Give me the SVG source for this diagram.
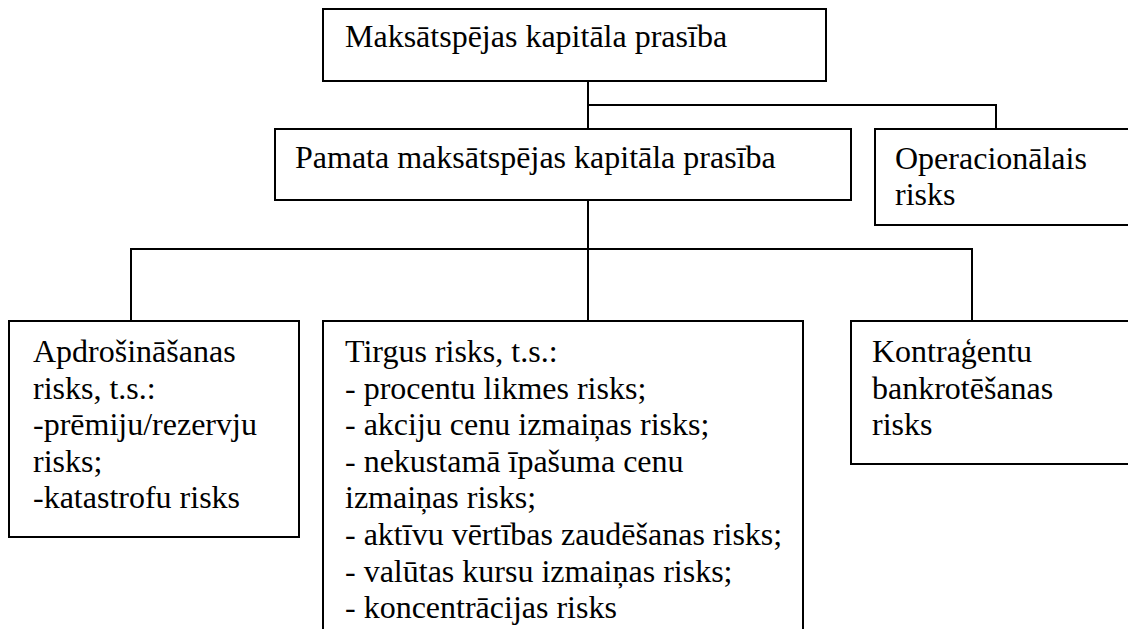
<svg xmlns="http://www.w3.org/2000/svg" width="1128" height="629" viewBox="0 0 1128 629">
<style>
  .box { fill: #ffffff; stroke: #000000; stroke-width: 2; }
  .conn { fill: none; stroke: #000000; stroke-width: 2; }
  .t { font-family: 'Liberation Serif', Tinos, 'Times New Roman', 'DejaVu Serif', serif; font-size: 32px; fill: #000000; }
</style>
<rect x="0" y="0" width="1128" height="629" fill="#ffffff"/>
<g id="connectors">
  <path class="conn" d="M588,81 V129"/>
  <path class="conn" d="M588,105 H996 V129"/>
  <path class="conn" d="M588,200 V321"/>
  <path class="conn" d="M131,321 V249 H972 V321"/>
</g>
<g id="node-top">
  <rect class="box" x="323" y="9" width="503" height="72"/>
  <text class="t" x="345" y="47">Maksātspējas kapitāla prasība</text>
</g>
<g id="node-pamata">
  <rect class="box" x="275" y="129" width="576" height="71"/>
  <text class="t" x="295" y="168">Pamata maksātspējas kapitāla prasība</text>
</g>
<g id="node-operacionalais">
  <rect class="box" x="875" y="129" width="270" height="96"/>
  <text class="t" x="895" y="169">Operacionālais</text>
  <text class="t" x="895" y="205">risks</text>
</g>
<g id="node-apdrosinasanas">
  <rect class="box" x="9" y="321" width="290" height="216"/>
  <text class="t" x="33" y="362">Apdrošināšanas</text>
  <text class="t" x="33" y="398.6">risks, t.s.:</text>
  <text class="t" x="33" y="435.2">-prēmiju/rezervju</text>
  <text class="t" x="33" y="471.8">risks;</text>
  <text class="t" x="33" y="508.4">-katastrofu risks</text>
</g>
<g id="node-tirgus">
  <rect class="box" x="323" y="321" width="480" height="330"/>
  <text class="t" x="345" y="362">Tirgus risks, t.s.:</text>
  <text class="t" x="345" y="398.6">- procentu likmes risks;</text>
  <text class="t" x="345" y="435.2">- akciju cenu izmaiņas risks;</text>
  <text class="t" x="345" y="471.8">- nekustamā īpašuma cenu</text>
  <text class="t" x="345" y="508.4">izmaiņas risks;</text>
  <text class="t" x="345" y="545">- aktīvu vērtības zaudēšanas risks;</text>
  <text class="t" x="345" y="581.6">- valūtas kursu izmaiņas risks;</text>
  <text class="t" x="345" y="618.2">- koncentrācijas risks</text>
</g>
<g id="node-kontragentu">
  <rect class="box" x="851" y="321" width="290" height="143"/>
  <text class="t" x="872" y="362">Kontraģentu</text>
  <text class="t" x="872" y="398.6">bankrotēšanas</text>
  <text class="t" x="872" y="435.2">risks</text>
</g>
</svg>
